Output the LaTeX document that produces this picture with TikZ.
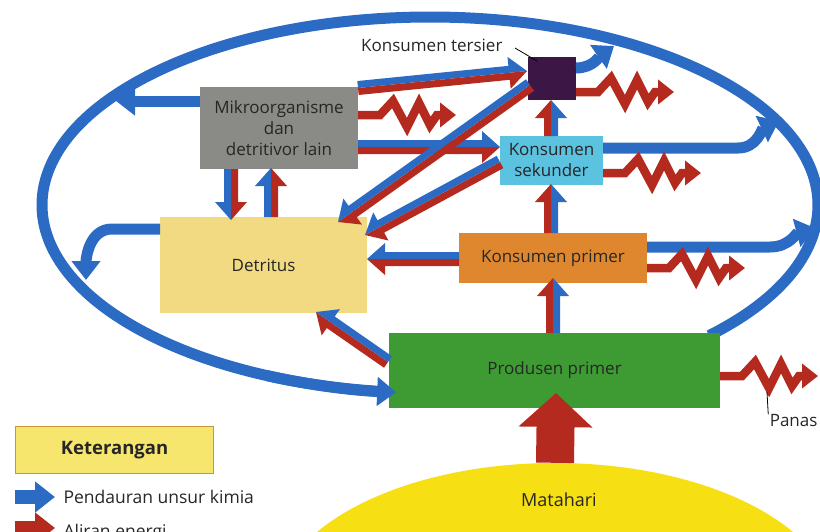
\documentclass[tikz,border=0pt]{standalone}
\usepackage{fontspec}
\setmainfont{Open Sans}
\usetikzlibrary{arrows.meta,calc,shapes.geometric}
\definecolor{cblue}{HTML}{2C6BC4}
\definecolor{cred}{HTML}{B52A1E}
\definecolor{cgray}{HTML}{8A8A86}
\definecolor{cdet}{HTML}{F1DA82}
\definecolor{csek}{HTML}{5BC2E0}
\definecolor{cprim}{HTML}{DF872F}
\definecolor{cprod}{HTML}{3E9B34}
\definecolor{cter}{HTML}{3C1745}
\definecolor{csun}{HTML}{F6DF12}
\definecolor{clegf}{HTML}{F7E66E}
\definecolor{clegd}{HTML}{C8963A}
\definecolor{ctext}{HTML}{262626}
% split arrow: #1 start, #2 end, #3 colour on the left side, #4 colour on the right side
\newcommand\duo[4]{%
 \fill[#3] let \p1=(#1), \p2=(#2), \n1={atan2(\y2-\y1,\x2-\x1)} in
  (\p1) -- ($(\p1)+({\n1+90}:7)$) -- ($(\p2)+({\n1+180}:18)+({\n1+90}:7)$)
  -- ($(\p2)+({\n1+180}:18)+({\n1+90}:16)$) -- (\p2) -- cycle;
 \fill[#4] let \p1=(#1), \p2=(#2), \n1={atan2(\y2-\y1,\x2-\x1)} in
  (\p1) -- ($(\p1)+({\n1-90}:7)$) -- ($(\p2)+({\n1+180}:18)+({\n1-90}:7)$)
  -- ($(\p2)+({\n1+180}:18)+({\n1-90}:16)$) -- (\p2) -- cycle;
}
% heat (zigzag) arrow starting at #1
\newcommand\heat[1]{%
 \draw[heatarr] (#1) -- ++(22,0) -- ++(13,14) -- ++(14,-26) -- ++(12,24) -- ++(11,-22) -- ++(7,10) -- ++(19,0);
}
\begin{document}
\begin{tikzpicture}[x=1pt,y=1pt,
 box/.style={anchor=north west, inner sep=0pt, outer sep=0pt, text=ctext, align=center,
   font=\fontsize{17}{21}\selectfont},
 blueline/.style={draw=cblue, line width=11pt},
 bluearr/.style={draw=cblue, line width=11pt, -{Triangle[width=28pt,length=19pt]}},
 heatarr/.style={draw=cred, line width=8.5pt, miter limit=10, -{Triangle[width=24pt,length=16pt]}},
 lead/.style={draw=black, line width=0.8pt},
 lbl/.style={text=ctext, font=\fontsize{17}{20}\selectfont}]
\useasboundingbox (0,0) rectangle (820,-531);
\clip (0,0) rectangle (820,-531);

% sun
\node[ellipse, fill=csun, minimum width=560pt, minimum height=292pt, inner sep=0pt] (sun) at (555,-609) {};
\node[lbl, font=\fontsize{18}{20}\selectfont] (sunlbl) at (559,-500) {Matahari};

% big cycle loop
\coordinate (lc) at (430,-205);
\draw[blueline] (lc) ++(-44:388 and 188) arc[start angle=-44, end angle=262, x radius=388, y radius=188];

% nodes
\node[box, fill=cgray, minimum width=158pt, minimum height=82pt] (mik) at (200,-87) {Mikroorganisme\\dan\\detritivor lain};
\node[box, fill=cter, minimum width=48pt, minimum height=43pt] (ter) at (528,-57) {};
\node[box, fill=csek, minimum width=103pt, minimum height=49pt] (sek) at (500,-136) {Konsumen\\sekunder};
\node[box, fill=cdet, minimum width=207pt, minimum height=96pt] (det) at (160,-217) {Detritus};
\node[box, fill=cprim, minimum width=188pt, minimum height=50pt] (prim) at (459,-233) {Konsumen primer};
\node[box, fill=cprod, minimum width=331pt, minimum height=75pt] (prod) at (389,-333) {Produsen primer};

% loop arrowhead into Produsen primer
\draw[bluearr] (lc) ++(245:388 and 188) arc[start angle=245, end angle=265, x radius=388, y radius=188];

% blue arrows from nodes to the cycle
\draw[bluearr] ($(mik.north west)+(0,-14)$) -- (116,-101);
\draw[bluearr] ($(det.north west)+(0,-12)$) -- (112,-229) to[out=180,in=90] (86,-280);
\draw[bluearr] ($(ter.north east)+(0,-11)$) to[out=0,in=215] (614,-46);
\draw[bluearr] ($(sek.north east)+(0,-12)$) -- (738,-148) to[out=0,in=205] (779,-121);
\draw[bluearr] ($(prim.north east)+(0,-14)$) -- (770,-247) to[out=0,in=195] (815,-228);

% split arrows
\duo{$(mik.south west)+(31,0)$}{$(det.north west)+(71,-3)$}{cred}{cblue}
\duo{$(det.north west)+(111,0)$}{$(mik.south west)+(71,1)$}{cblue}{cred}
\duo{$(mik.north east)+(0,-1)$}{$(ter.west)+(-1,7.5)$}{cblue}{cred}
\duo{$(mik.east)+(0,-19)$}{$(sek.west)+(0,13.5)$}{cblue}{cred}
\duo{$(prim.west)+(0,-1)$}{$(det.east)+(0,6)$}{cred}{cblue}
\duo{$(prod.north west)+(-1,-29)$}{$(det.south east)+(-51,1)$}{cred}{cblue}
\duo{$(prod.north west)+(164,0)$}{$(prim.south west)+(94,5)$}{cred}{cblue}
\duo{$(prim.north west)+(92,0)$}{$(sek.south west)+(51,1)$}{cred}{cblue}
\duo{$(sek.north west)+(51,0)$}{$(ter.south west)+(23,0)$}{cred}{cblue}
\duo{$(sek.west)+(0,-1.5)$}{$(det.north east)+(-2,-18)$}{cred}{cblue}
\duo{$(ter.south west)+(2,15)$}{$(det.north east)+(-29,-5)$}{cred}{cblue}

% heat arrows
\heat{$(mik.east)+(0,13)$}
\heat{$(ter.east)+(0,-13.5)$}
\heat{$(sek.east)+(0,-12.5)$}
\heat{$(prim.east)+(0,-10)$}
\heat{$(prod.east)+(0,-5.5)$}

% sunlight into producers
\draw[draw=cred, line width=38pt, -{Triangle[width=72pt,length=34pt]}] (sun.north) -- ($(prod.south)+(1.5,15)$);

% labels
\node[lbl, anchor=east] (terlbl) at (506,-45) {Konsumen tersier};
\draw[lead] ($(terlbl.east)+(9,-3)$) -- ($(ter.north west)+(9,-4)$);
\node[lbl, anchor=east] (panas) at (821,-421) {Panas};
\draw[lead] ($(panas.north west)+(2,-3)$) -- (767,-392);

% legend
\node[draw=clegd, fill=clegf, line width=1.2pt, minimum width=198pt, minimum height=47pt, anchor=north west,
      inner sep=0pt, text=ctext, font=\fontsize{18.5}{20}\selectfont\bfseries] (leg) at (15,-426) {Keterangan};
\coordinate (lb1) at (15,-497);
\node[lbl, anchor=west, font=\fontsize{17.5}{20}\selectfont] (lt1) at (60,-497) {Pendauran unsur kimia};
\draw[draw=cblue, line width=14pt, -{Triangle[width=30pt,length=20pt]}] (lb1) -- ($(lt1.west)+(-5,0)$);
\coordinate (lb2) at (15,-528);
\node[lbl, anchor=west, font=\fontsize{17.5}{20}\selectfont] (lt2) at (60,-533) {Aliran energi};
\draw[draw=cred, line width=14pt, -{Triangle[width=30pt,length=20pt]}] (lb2) -- ($(lt2.west)+(-5,5)$);
\end{tikzpicture}
\end{document}
